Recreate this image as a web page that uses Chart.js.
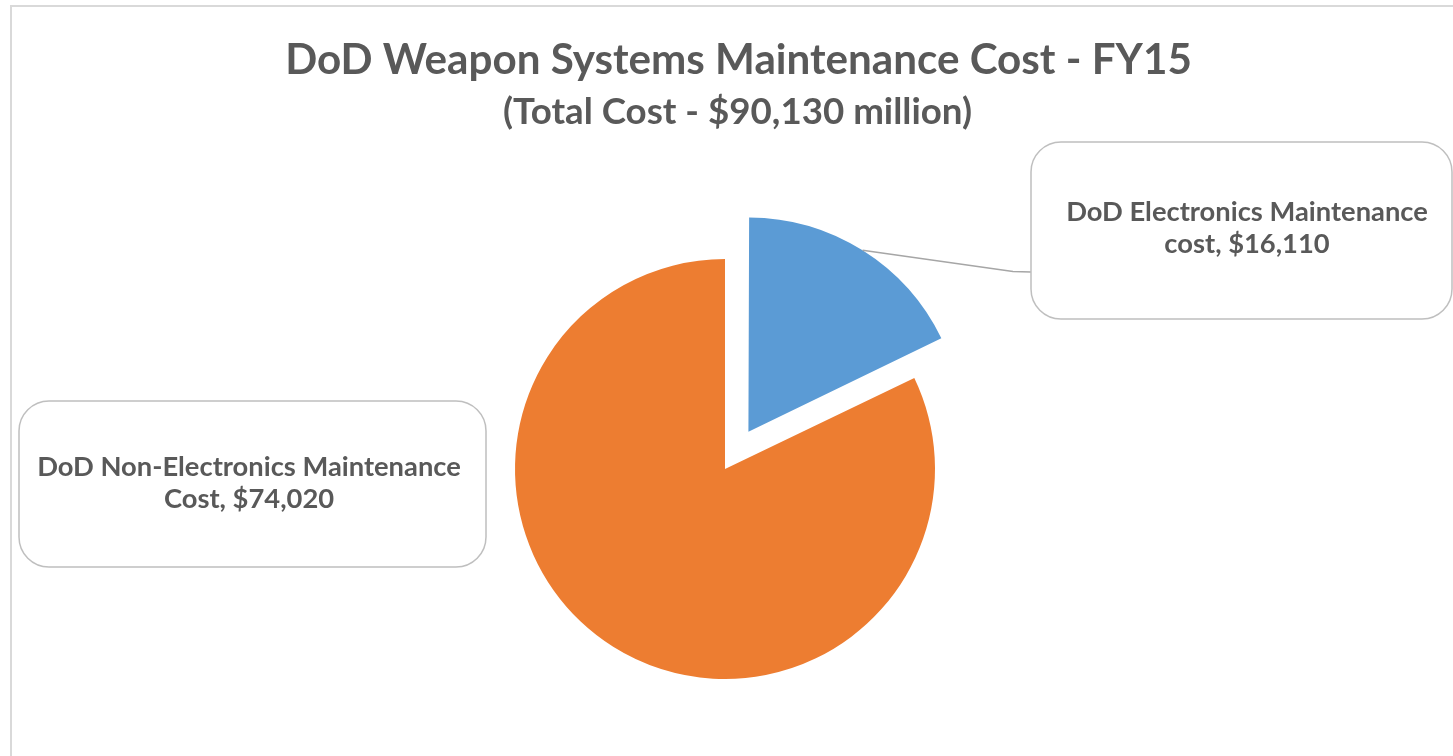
<!DOCTYPE html>
<html>
<head>
<meta charset="utf-8">
<script src="https://cdn.jsdelivr.net/npm/chart.js@4.4.1/dist/chart.umd.min.js"></script>
<style>
html,body{margin:0;padding:0;background:#ffffff;overflow:hidden;}
#wrap{position:relative;width:1453px;height:756px;}
</style>
</head>
<body>
<div id="wrap"><canvas id="c" width="1453" height="756"></canvas></div>
<script>
// ---- data ----
const chartTitle = 'DoD Weapon Systems Maintenance Cost - FY15';
const chartSubtitle = '(Total Cost - $90,130 million)';
const categories = ['DoD Electronics Maintenance cost', 'DoD Non-Electronics Maintenance Cost'];
const costs = [16110, 74020];

// ---- styles ----
const sliceColors = ['#5B9BD5', '#ED7D31'];
const sliceOffsets = [176, 0];   // Chart.js v4 translates by offset/4
const textColor = '#595959';
const fontFamily = 'Lato, "Open Sans", "DejaVu Sans", sans-serif';

// callout layout (pixels)
const callouts = [
  {x: 1031, y: 142, w: 421, h: 177, cx: 1247, baselines: [221, 253], leader: [[1013, 271.5], [1031, 272]]},
  {x: 19,   y: 401, w: 467, h: 166, cx: 249,  baselines: [476, 508], leader: null}
];

function fmtMoney(v) { return '$' + v.toLocaleString('en-US'); }
function labelLines(i) {
  const words = categories[i].split(' ');
  const last = words.pop();
  return [words.join(' '), last + ', ' + fmtMoney(costs[i])];
}
function fitSize(ctx, text, targetW) {
  ctx.font = 'bold 100px ' + fontFamily;
  const w = ctx.measureText(text).width;
  return 100 * targetW / w;
}
function roundRectPath(ctx, x, y, w, h, r) {
  ctx.beginPath();
  ctx.moveTo(x + r, y);
  ctx.lineTo(x + w - r, y);
  ctx.arcTo(x + w, y, x + w, y + r, r);
  ctx.lineTo(x + w, y + h - r);
  ctx.arcTo(x + w, y + h, x + w - r, y + h, r);
  ctx.lineTo(x + r, y + h);
  ctx.arcTo(x, y + h, x, y + h - r, r);
  ctx.lineTo(x, y + r);
  ctx.arcTo(x, y, x + r, y, r);
  ctx.closePath();
}

const decor = {
  id: 'decor',
  beforeDraw(chart) {
    const ctx = chart.ctx;
    ctx.save();
    ctx.fillStyle = '#ffffff';
    ctx.fillRect(0, 0, chart.width, chart.height);
    ctx.strokeStyle = '#d9d9d9';
    ctx.lineWidth = 2;
    ctx.strokeRect(11, 6, 1600, 900);
    ctx.restore();
  },
  afterDraw(chart) {
    const ctx = chart.ctx;
    ctx.save();
    ctx.fillStyle = textColor;
    ctx.textAlign = 'center';
    ctx.textBaseline = 'alphabetic';
    // title
    let s = fitSize(ctx, chartTitle, 907);
    ctx.font = 'bold ' + s + 'px ' + fontFamily;
    ctx.fillText(chartTitle, 738.5, 74);
    s = fitSize(ctx, chartSubtitle, 469);
    ctx.font = 'bold ' + s + 'px ' + fontFamily;
    ctx.fillText(chartSubtitle, 737.5, 124);

    // callouts
    const meta = chart.getDatasetMeta(0);
    const labelSize = fitSize(ctx, labelLines(0)[0], 362);
    callouts.forEach((c, i) => {
      // leader line
      if (c.leader) {
        const arc = meta.data[i];
        const mid = (arc.startAngle + arc.endAngle) / 2;
        const off = (sliceOffsets[i] || 0) / 4;
        const fix = 1 - Math.sin(Math.min(Math.PI, arc.endAngle - arc.startAngle));
        const r = arc.outerRadius + off * fix;
        const sx = arc.x + Math.cos(mid) * (off + r);
        const sy = arc.y + Math.sin(mid) * (off + r);
        ctx.beginPath();
        ctx.moveTo(sx, sy);
        c.leader.forEach(p => ctx.lineTo(p[0], p[1]));
        ctx.strokeStyle = '#a6a6a6';
        ctx.lineWidth = 1.5;
        ctx.stroke();
      }
      roundRectPath(ctx, c.x, c.y, c.w, c.h, 30);
      ctx.fillStyle = '#ffffff';
      ctx.fill();
      ctx.strokeStyle = '#bfbfbf';
      ctx.lineWidth = 1.5;
      ctx.stroke();
      ctx.fillStyle = textColor;
      ctx.font = 'bold ' + labelSize + 'px ' + fontFamily;
      labelLines(i).forEach((t, k) => ctx.fillText(t, c.cx, c.baselines[k]));
    });
    ctx.restore();
  }
};

new Chart(document.getElementById('c'), {
  type: 'pie',
  data: {
    labels: categories,
    datasets: [{
      data: costs,
      backgroundColor: sliceColors,
      borderWidth: 0,
      offset: sliceOffsets,
      hoverOffset: 0
    }]
  },
  options: {
    responsive: false,
    animation: false,
    devicePixelRatio: 1,
    radius: 210,
    layout: {padding: {left: 0, right: 3, top: 182, bottom: 0}},
    plugins: {
      legend: {display: false},
      title: {display: false},
      tooltip: {enabled: false}
    },
    events: []
  },
  plugins: [decor]
});
</script>
</body>
</html>
